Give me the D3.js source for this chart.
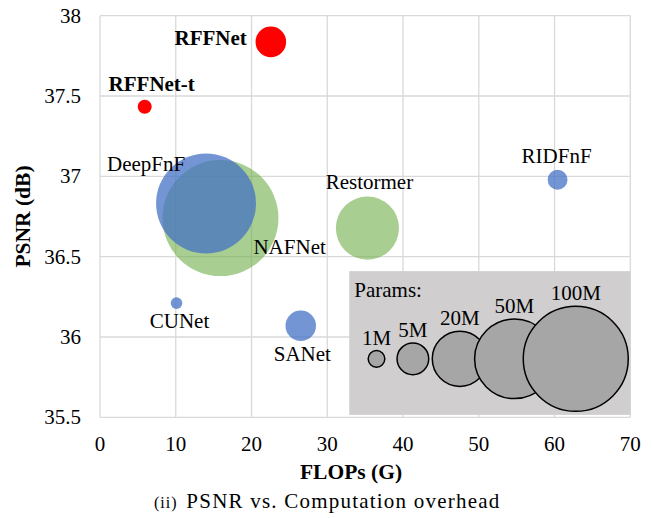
<!DOCTYPE html>
<html>
<head lang="en">
  <meta charset="UTF-8">
  <title>PSNR vs. Computation overhead</title>
  <script src="https://cdn.jsdelivr.net/npm/d3@7/dist/d3.min.js"></script>
  <style>
    body { margin: 0; background: #fff; }
  </style>
</head>
<body>
  <script type="text/javascript">
    // data
    var models   = ['NAFNet', 'Restormer', 'DeepFnF', 'RIDFnF', 'CUNet', 'SANet', 'RFFNet-t', 'RFFNet'];
    var flops    = [15.9, 35.3, 14.0, 60.4, 10.1, 26.5, 5.9, 22.55];
    var psnr     = [36.74, 36.678, 36.831, 36.979, 36.211, 36.07, 37.433, 37.837];
    var params   = [67.9, 20.1, 50.4, 2.0, 0.68, 4.7, 0.99, 4.7];
    var groups   = ['green', 'green', 'blue', 'blue', 'blue', 'blue', 'red', 'red'];

    var xTicks = [0, 10, 20, 30, 40, 50, 60, 70];
    var yTicks = [35.5, 36, 36.5, 37, 37.5, 38];

    var legendParams = [1, 5, 20, 50, 100];
    var legendNames  = ['1M', '5M', '20M', '50M', '100M'];
    var legendFlops  = [36.5, 41.3, 47.5, 54.7, 62.8];
    var legendPsnr   = 35.864;

    // label placement (anchor, dx, dy from bubble centre)
    var labelPlace = {
      'NAFNet':    ['start', 33, 36],
      'Restormer': ['middle', 2, -39],
      'DeepFnF':   ['start', -99, -32],
      'RIDFnF':    ['middle', -1, -17],
      'CUNet':     ['middle', 3, 25],
      'SANet':     ['start', -27, 35],
      'RFFNet-t':  ['middle', 7, -16],
      'RFFNet':    ['end', -24, 3]
    };
    var colors = {
      green: ['#70ad47', 0.6],
      blue:  ['#4472c4', 0.75],
      red:   ['#ff0000', 1]
    };

    var width = 653, height = 518;
    var svg = d3.select('body')
        .append('svg')
        .attr('width', width)
        .attr('height', height);

    var x = d3.scaleLinear().domain([0, 70]).range([100, 630.3]);
    var y = d3.scaleLinear().domain([35.5, 38]).range([417.3, 15.7]);
    var r = d3.scaleSqrt().domain([0, 100]).range([0, 70.4]);
    var rLegend = d3.scalePow().exponent(0.4).domain([0, 100]).range([0, 52.5]);

    // the serif face falls back to sans at 20px+, so draw at 19px and scale up
    var BASE = 19;
    function label(parent, tx, ty, size, bold, anchor) {
      return parent.append('text')
          .attr('transform', 'translate(' + tx + ',' + ty + ') scale(' + (size / BASE) + ')')
          .attr('text-anchor', anchor || 'start')
          .style('font-family', 'Liberation Serif')
          .style('font-size', BASE + 'px')
          .style('font-weight', bold ? 'bold' : 'normal')
          .style('fill', '#000');
    }

    // grid
    var grid = svg.append('g');
    grid.selectAll('.gx').data(xTicks).enter().append('line')
        .attr('x1', x).attr('x2', x)
        .attr('y1', y(38)).attr('y2', y(35.5))
        .attr('stroke', '#d9d9d9').attr('stroke-width', 1.3);
    grid.selectAll('.gy').data(yTicks).enter().append('line')
        .attr('y1', y).attr('y2', y)
        .attr('x1', x(0)).attr('x2', x(70))
        .attr('stroke', '#d9d9d9').attr('stroke-width', 1.3);

    // tick labels
    var fmt = d3.format('');
    xTicks.forEach(function (t) {
      label(svg, x(t), y(35.5) + 34, 21, false, 'middle').text(fmt(t));
    });
    yTicks.forEach(function (t) {
      label(svg, x(0) - 19, y(t) + 7, 21, false, 'end').text(fmt(t));
    });

    // legend box
    svg.append('rect')
        .attr('x', x(32.9)).attr('y', y(36.41))
        .attr('width', x(70) - x(32.9)).attr('height', y(35.515) - y(36.41))
        .attr('fill', '#d0cecf');
    label(svg, x(32.9) + 5, 296.5, 21, false).text('Params:');
    var leg = svg.append('g');
    legendParams.forEach(function (p, i) {
      var cx = x(legendFlops[i]), cy = y(legendPsnr), rr = rLegend(p);
      leg.append('circle')
          .attr('cx', cx).attr('cy', cy).attr('r', rr)
          .attr('fill', '#a6a6a6').attr('stroke', '#000').attr('stroke-width', 1.5);
      label(leg, cx, cy - rr - 6, 21, false, 'middle').text(legendNames[i]);
    });

    // bubbles
    var i, l;
    for (i = 0, l = models.length; i < l; i++) {
      svg.append('circle')
          .attr('cx', x(flops[i]))
          .attr('cy', y(psnr[i]))
          .attr('r', r(params[i]))
          .attr('fill', colors[groups[i]][0])
          .attr('fill-opacity', colors[groups[i]][1]);
    }
    for (i = 0, l = models.length; i < l; i++) {
      var pl = labelPlace[models[i]];
      label(svg, x(flops[i]) + pl[1], y(psnr[i]) + pl[2], 21, groups[i] === 'red', pl[0])
          .text(models[i]);
    }

    // titles
    label(svg, 351, 479, 21.5, true, 'middle').text('FLOPs (G)');
    label(svg, 0, 0, 21.5, true, 'middle')
        .attr('transform', 'translate(30,216.5) rotate(-90) scale(' + (21.5 / BASE) + ')')
        .text('PSNR (dB)');

    var cap = label(svg, 154, 508, 21, false);
    cap.append('tspan').style('font-size', (16 * BASE / 21) + 'px').attr('letter-spacing', 0.9).text('(ii)');
    cap.append('tspan').attr('dx', 8).attr('letter-spacing', 1.1)
        .text('PSNR vs. Computation overhead');
  </script>
</body>
</html>
